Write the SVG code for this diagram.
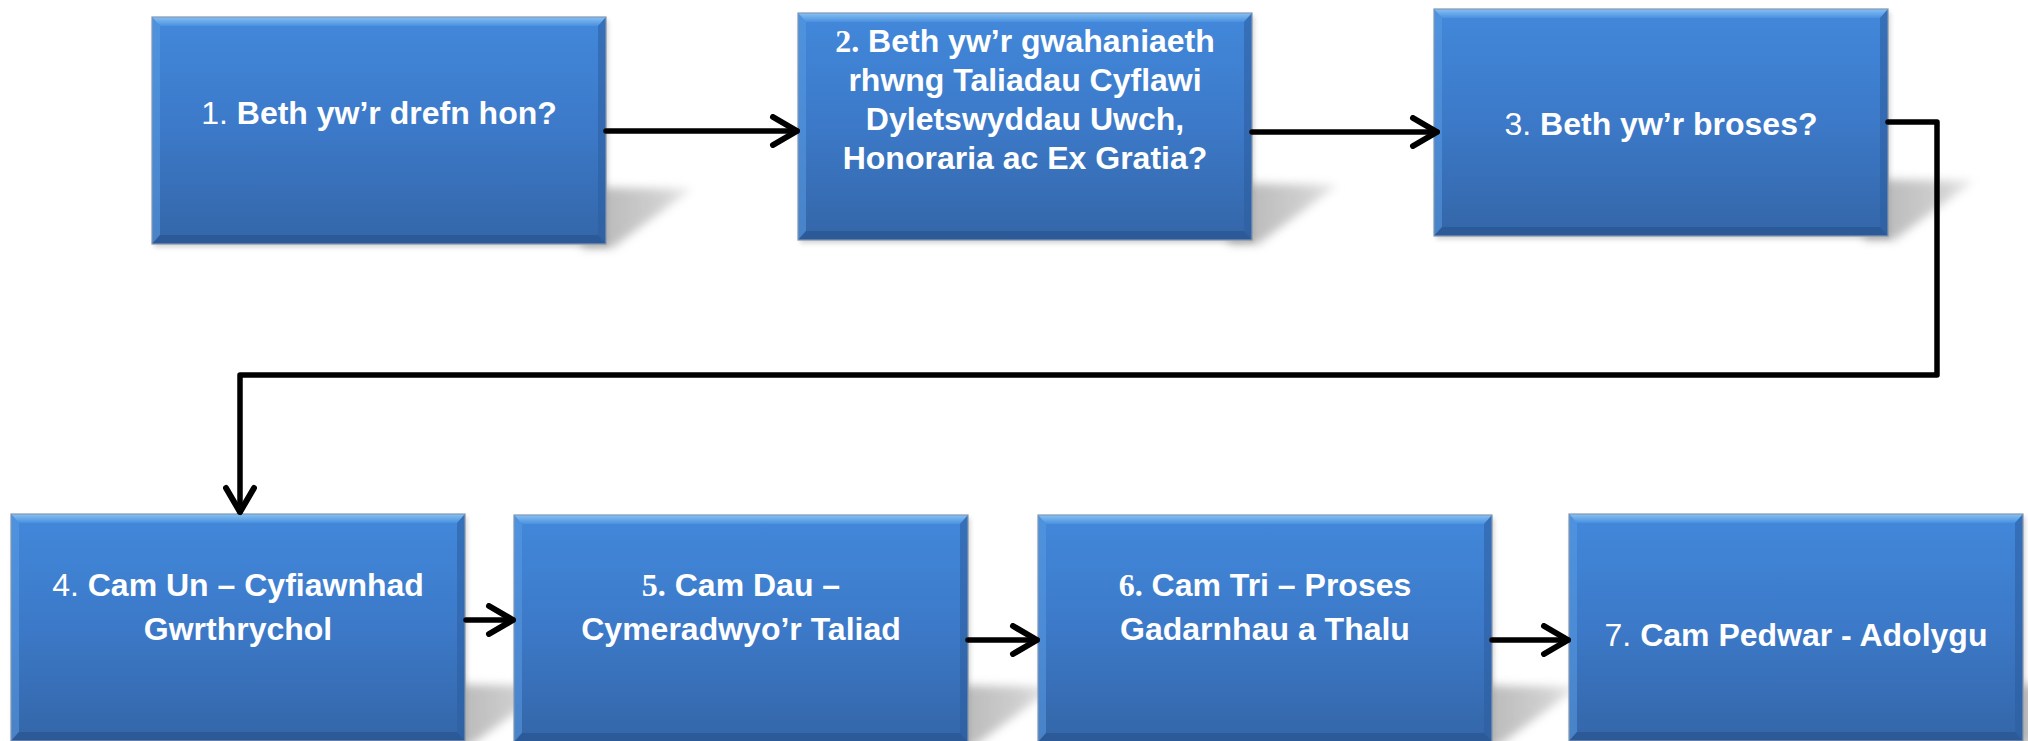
<svg xmlns="http://www.w3.org/2000/svg" xmlns:xlink="http://www.w3.org/1999/xlink" width="2028" height="741" viewBox="0 0 2028 741">
<style>
.lbl{font-family:"Liberation Sans",Arial,sans-serif;font-size:32px;font-weight:bold;fill:#ffffff;text-anchor:middle}
.num{font-weight:normal}
.snum{font-family:"Liberation Serif","Times New Roman",serif;font-weight:bold}
.conn{fill:none;stroke:#000000;stroke-width:5.5;stroke-linejoin:round;stroke-linecap:round}
</style>
<defs>
<linearGradient id="boxGrad" x1="0" y1="0" x2="0" y2="1">
<stop offset="0" stop-color="#4288db"/>
<stop offset="0.5" stop-color="#3c79c8"/>
<stop offset="1" stop-color="#3466a8"/>
</linearGradient>
<linearGradient id="topBev" x1="0" y1="0" x2="0" y2="1">
<stop offset="0" stop-color="#86c2f4"/>
<stop offset="1" stop-color="#4a90de"/>
</linearGradient>
<linearGradient id="shGrad" x1="0" y1="0" x2="1" y2="0">
<stop offset="0" stop-color="#a0a0a0"/>
<stop offset="0.7" stop-color="#c4c4c4"/>
<stop offset="1" stop-color="#e6e6e6"/>
</linearGradient>
<filter id="blur" x="-30%" y="-30%" width="160%" height="160%">
<feGaussianBlur stdDeviation="5"/>
</filter>
<filter id="blur2" x="-10%" y="-10%" width="120%" height="130%">
<feGaussianBlur stdDeviation="2.5"/>
</filter>
<marker id="ah" viewBox="0 0 32 34" refX="28" refY="17" markerWidth="32" markerHeight="34" markerUnits="userSpaceOnUse" orient="auto">
<path d="M4,3 L28,17 L4,31" fill="none" stroke="#000000" stroke-width="6" stroke-linecap="round" stroke-linejoin="round"/>
</marker>
<g id="boxShape">
<polygon points="430,170 540,172 460,231 430,231" fill="url(#shGrad)" filter="url(#blur)" opacity="0.8"/>
<rect x="2" y="3" width="454" height="227" fill="#9a9a9a" opacity="0.45" filter="url(#blur2)"/>
<rect x="0" y="0" width="454" height="227" fill="url(#boxGrad)"/>
<polygon points="0,0 454,0 446,9 8,9" fill="url(#topBev)"/>
<polygon points="0,0 8,9 8,218 0,227" fill="#5a9ae2" opacity="0.55"/>
<polygon points="454,0 446,9 446,218 454,227" fill="#2c5d9f" opacity="0.55"/>
<polygon points="0,227 8,218 446,218 454,227" fill="#2a5692" opacity="0.7"/>
<rect x="0" y="0" width="454" height="227" fill="none" stroke="#8497b0" stroke-width="1.2"/>
</g>
</defs>
<rect width="2028" height="741" fill="#ffffff"/>

<g id="node1">
<use xlink:href="#boxShape" href="#boxShape" x="152" y="17"/>
<text class="lbl" x="379" y="124"><tspan class="num">1.</tspan> Beth yw’r drefn hon?</text>
</g>

<g id="node2">
<use xlink:href="#boxShape" href="#boxShape" x="798" y="13"/>
<text class="lbl" x="1025" y="52"><tspan class="snum">2.</tspan> Beth yw’r gwahaniaeth</text>
<text class="lbl" x="1025" y="91">rhwng Taliadau Cyflawi</text>
<text class="lbl" x="1025" y="130">Dyletswyddau Uwch,</text>
<text class="lbl" x="1025" y="169">Honoraria ac Ex Gratia?</text>
</g>

<g id="node3">
<use xlink:href="#boxShape" href="#boxShape" x="1434" y="9"/>
<text class="lbl" x="1661" y="135"><tspan class="num">3.</tspan> Beth yw’r broses?</text>
</g>

<g id="node4">
<use xlink:href="#boxShape" href="#boxShape" x="11" y="514"/>
<text class="lbl" x="238" y="596"><tspan class="num">4.</tspan> Cam Un – Cyfiawnhad</text>
<text class="lbl" x="238" y="640">Gwrthrychol</text>
</g>

<g id="node5">
<use xlink:href="#boxShape" href="#boxShape" x="514" y="515"/>
<text class="lbl" x="741" y="596"><tspan class="snum">5.</tspan> Cam Dau –</text>
<text class="lbl" x="741" y="640">Cymeradwyo’r Taliad</text>
</g>

<g id="node6">
<use xlink:href="#boxShape" href="#boxShape" x="1038" y="515"/>
<text class="lbl" x="1265" y="596"><tspan class="snum">6.</tspan> Cam Tri – Proses</text>
<text class="lbl" x="1265" y="640">Gadarnhau a Thalu</text>
</g>

<g id="node7">
<use xlink:href="#boxShape" href="#boxShape" x="1569" y="514"/>
<text class="lbl" x="1796" y="646"><tspan class="num">7.</tspan> Cam Pedwar - Adolygu</text>
</g>

<g id="connectors">
<path class="conn" d="M606,131 L797,131" marker-end="url(#ah)"/>
<path class="conn" d="M1252,132 L1437,132" marker-end="url(#ah)"/>
<path class="conn" d="M1888,122 L1937,122 L1937,375 L240,375 L240,512" marker-end="url(#ah)"/>
<path class="conn" d="M466,620 L513,620" marker-end="url(#ah)"/>
<path class="conn" d="M968,640 L1037,640" marker-end="url(#ah)"/>
<path class="conn" d="M1492,640 L1568,640" marker-end="url(#ah)"/>
</g>
</svg>
